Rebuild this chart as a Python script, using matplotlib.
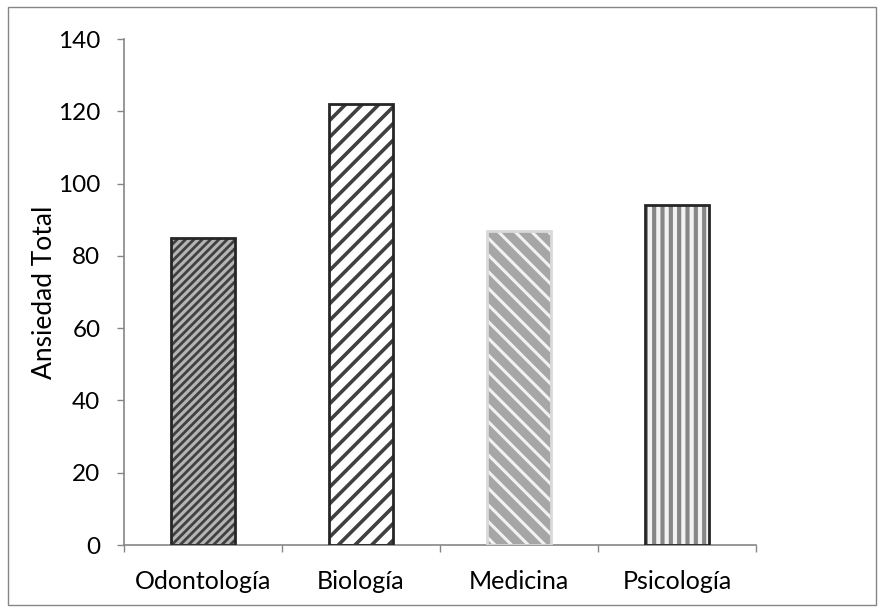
import matplotlib
matplotlib.use("Agg")
import matplotlib.pyplot as plt
from matplotlib.patches import Rectangle

categories = ["Odontología", "Biología", "Medicina", "Psicología"]
values = [85, 122, 87, 94]
yticks = [0, 20, 40, 60, 80, 100, 120, 140]

# style per bar: facecolor, hatch, hatch color, hatch lw, edge color
styles = [
    ("#b4b4b4", "////", "#404040", 2.0, "#262626"),
    ("#ffffff", "//", "#404040", 2.6, "#262626"),
    ("#a6a6a6", "\\\\", "#f2f2f2", 2.2, "#d9d9d9"),
    ("#f2f2f2", "||", "#878787", 3.0, "#262626"),
]

plt.rcParams['font.family'] = ['Lato', 'DejaVu Sans']
fig = plt.figure(figsize=(8.83, 6.13), dpi=100)
ax = fig.add_axes([124/883, 1 - 545/613, (756 - 124)/883, (545 - 39)/613])

for i, (cat, v) in enumerate(zip(categories, values)):
    fc, h, hc, hlw, ec = styles[i]
    with plt.rc_context({'hatch.linewidth': hlw}):
        ax.bar(i, v, width=0.405, color=fc, hatch=h, edgecolor=hc, linewidth=0, zorder=2)
    ax.bar(i, v, width=0.405, fill=False, edgecolor=ec, linewidth=2, zorder=3)

ax.set_xlim(-0.5, 3.5)
ax.set_ylim(0, 140)
ax.set_yticks(yticks)
ax.set_xticks(range(len(categories)))
ax.set_xticklabels(categories, fontsize=18)
ax.tick_params(axis='x', length=0, pad=18)
ax.set_xticks([-0.5, 0.5, 1.5, 2.5, 3.5], minor=True)
ax.tick_params(axis='x', which='minor', length=5, color='#868686', width=1)
ax.tick_params(axis='y', length=5, color='#868686', width=1, labelsize=17.5, pad=12)
for s in ['top', 'right']:
    ax.spines[s].set_visible(False)
for s in ['left', 'bottom']:
    ax.spines[s].set_color('#868686')
    ax.spines[s].set_linewidth(1.2)
ax.set_ylabel("Ansiedad Total", fontsize=19, labelpad=1)

fig.patches.append(Rectangle((8/883, 1 - 605/613), (876 - 8)/883, (605 - 7)/613,
                             transform=fig.transFigure, fill=False,
                             edgecolor='#868686', linewidth=1))

fig.savefig("out.png", dpi=100)
